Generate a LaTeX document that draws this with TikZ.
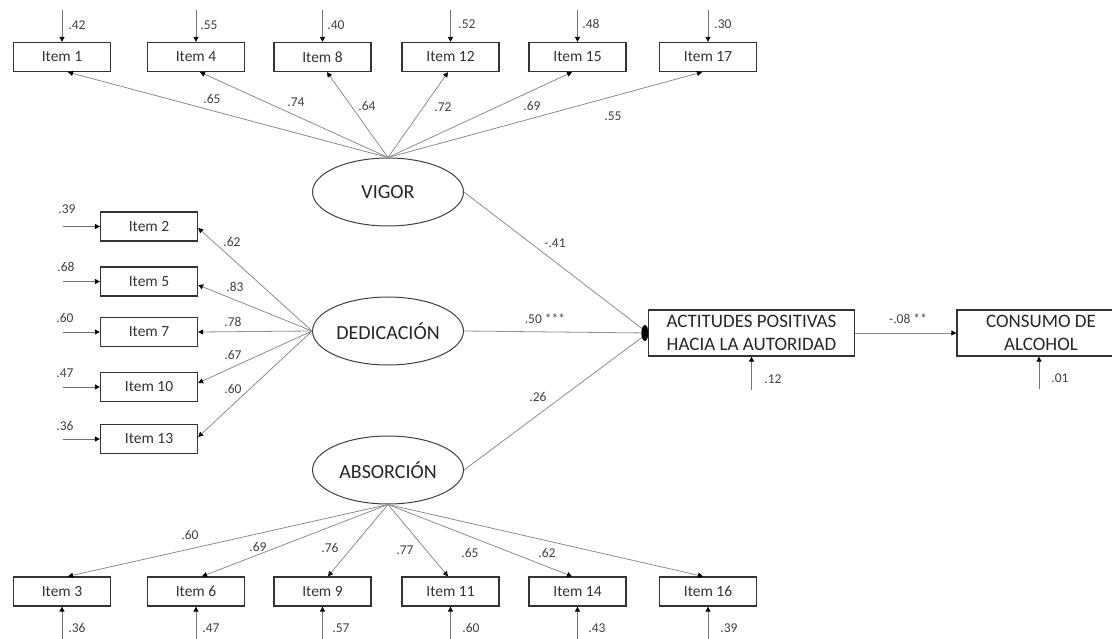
\documentclass[tikz,border=0pt]{standalone}
\usepackage{fontspec}
\setmainfont{Carlito}
\usetikzlibrary{arrows.meta,shapes.geometric,calc}
\begin{document}
\begin{tikzpicture}[x=1pt,y=-1pt,
 item/.style={draw=black!80, line width=1.3pt, minimum width=97pt, minimum height=29pt, inner sep=0pt, font=\fontsize{15.5}{17}\selectfont, text=black!80},
 lat/.style={ellipse, draw=black!75, line width=1pt, minimum width=151pt, minimum height=68pt, inner sep=0pt, font=\fontsize{20}{22}\selectfont, text=black!85},
 obs/.style={draw=black!80, line width=1.3pt, minimum height=46pt, inner sep=0pt, align=center, font=\fontsize{19}{23}\selectfont, text=black!85},
 lbl/.style={font=\fontsize{13.5}{15}\selectfont, text=black!75, inner sep=0pt},
 ld/.style={black!45, line width=0.8pt, -{Triangle[length=5pt,width=5pt,color=black]}},
 err/.style={black!55, line width=0.9pt, -{Triangle[length=5pt,width=5pt,color=black]}},
 sl/.style={black!45, line width=0.8pt}
]
\useasboundingbox (0,0) rectangle (1112,639);
\clip (0,0) rectangle (1112,639);
% items top
\node[item] (i1) at (62,57) {Item 1};
\node[item] (i4) at (196,57) {Item 4};
\node[item] (i8) at (322.5,57) {Item 8};
\node[item] (i12) at (450.5,57) {Item 12};
\node[item] (i15) at (577.5,57) {Item 15};
\node[item] (i17) at (708,57) {Item 17};
% items left
\node[item] (i2) at (149,226.5) {Item 2};
\node[item] (i5) at (149,281.5) {Item 5};
\node[item] (i7) at (149,332) {Item 7};
\node[item] (i10) at (149,387) {Item 10};
\node[item] (i13) at (149,439) {Item 13};
% items bottom
\node[item] (i3) at (62,591.5) {Item 3};
\node[item] (i6) at (196,591.5) {Item 6};
\node[item] (i9) at (322.5,591.5) {Item 9};
\node[item] (i11) at (450.5,591.5) {Item 11};
\node[item] (i14) at (577.5,591.5) {Item 14};
\node[item] (i16) at (708,591.5) {Item 16};
% latents
\node[lat] (v) at (388,192) {VIGOR};
\node[lat] (d) at (388,331) {DEDICACIÓN};
\node[lat] (a) at (388,470) {ABSORCIÓN};
% observed
\node[obs, minimum width=206pt] (act) at (751.5,333) {ACTITUDES POSITIVAS\\HACIA LA AUTORIDAD};
\node[obs, minimum width=168pt] (con) at (1041,333) {CONSUMO DE\\ALCOHOL};
% loadings top
\draw[ld] (v.north) -- ([xshift=6pt]i1.south);
\draw[ld] (v.north) -- ([xshift=4pt]i4.south);
\draw[ld] (v.north) -- ([xshift=4.5pt]i8.south);
\draw[ld] (v.north) -- ([xshift=-2.5pt]i12.south);
\draw[ld] (v.north) -- ([xshift=-5.5pt]i15.south);
\draw[ld] (v.north) -- ([xshift=-6pt]i17.south);
% loadings left
\draw[ld] (d.west) -- ([yshift=-1.5pt]i2.east);
\draw[ld] (d.west) -- ([yshift=-3.5pt]i5.east);
\draw[ld] (d.west) -- (i7.east);
\draw[ld] (d.west) -- ([yshift=4pt]i10.east);
\draw[ld] (d.west) -- ([yshift=2pt]i13.east);
% loadings bottom
\draw[ld] (a.south) -- ([xshift=6pt]i3.north);
\draw[ld] (a.south) -- ([xshift=6pt]i6.north);
\draw[ld] (a.south) -- ([xshift=5.5pt]i9.north);
\draw[ld] (a.south) -- ([xshift=-2.5pt]i11.north);
\draw[ld] (a.south) -- ([xshift=-5.5pt]i14.north);
\draw[ld] (a.south) -- ([xshift=-5pt]i16.north);
% error arrows
\foreach \n in {i1,i4,i8,i12,i15,i17} \draw[err] ([yshift=32pt]\n.north) -- (\n.north);
\foreach \n in {i2,i5,i7,i10,i13} \draw[err] ([xshift=-37pt]\n.west) -- (\n.west);
\foreach \n in {i3,i6,i9,i11,i14,i16} \draw[err] ([yshift=-36pt]\n.south) -- (\n.south);
% structural
\draw[sl] (v.east) -- (act.west);
\draw[sl] (d.east) -- (act.west);
\draw[sl] (a.east) -- (act.west);
\fill[black] ([xshift=-3pt]act.west) ellipse (3.5pt and 8pt);
\draw[ld] (act.east) -- (con.west);
\draw[err] ([yshift=-33pt]act.south) -- (act.south);
\draw[err] ([xshift=-2pt,yshift=-32pt]con.south) -- ([xshift=-2pt]con.south);
% error labels
\node[lbl] (e1) at (77,25) {.42};
\node[lbl] (e4) at (209,25) {.55};
\node[lbl] (e8) at (336,25) {.40};
\node[lbl] (e12) at (467,24) {.52};
\node[lbl] (e15) at (591,24) {.48};
\node[lbl] (e17) at (723,24) {.30};
\node[lbl] (e2) at (67,209) {.39};
\node[lbl] (e5) at (66,267) {.68};
\node[lbl] (e7) at (65,318) {.60};
\node[lbl] (e10) at (65,373) {.47};
\node[lbl] (e13) at (65,426) {.36};
\node[lbl] (e3) at (77,628) {.36};
\node[lbl] (e6) at (211,628) {.47};
\node[lbl] (e9) at (341,628) {.57};
\node[lbl] (e11) at (471,628) {.60};
\node[lbl] (e14) at (597,628) {.43};
\node[lbl] (e16) at (729,628) {.39};
\node[lbl] (eact) at (773,379) {.12};
\node[lbl] (econ) at (1060,378) {.01};
% loading labels
\node[lbl] (l1) at (212,99) {.65};
\node[lbl] (l4) at (296,102) {.74};
\node[lbl] (l8) at (367,106) {.64};
\node[lbl] (l12) at (443,107) {.72};
\node[lbl] (l15) at (532,106) {.69};
\node[lbl] (l17) at (613,116) {.55};
\node[lbl] (l2) at (232,242) {.62};
\node[lbl] (l5) at (235,287) {.83};
\node[lbl] (l7) at (233,322) {.78};
\node[lbl] (l10) at (233,355) {.67};
\node[lbl] (l13) at (233,389) {.60};
\node[lbl] (l3) at (190,535) {.60};
\node[lbl] (l6) at (258,547) {.69};
\node[lbl] (l9) at (330,548) {.76};
\node[lbl] (l11) at (405,550) {.77};
\node[lbl] (l14) at (470,553) {.65};
\node[lbl] (l16) at (547,553) {.62};
% structural labels
\node[lbl] (sv) at (555,243) {-.41};
\node[lbl] (sd) at (545,319) {.50 ***};
\node[lbl] (sa) at (538,397) {.26};
\node[lbl] (sc) at (908,319) {-.08 **};
\end{tikzpicture}
\end{document}
